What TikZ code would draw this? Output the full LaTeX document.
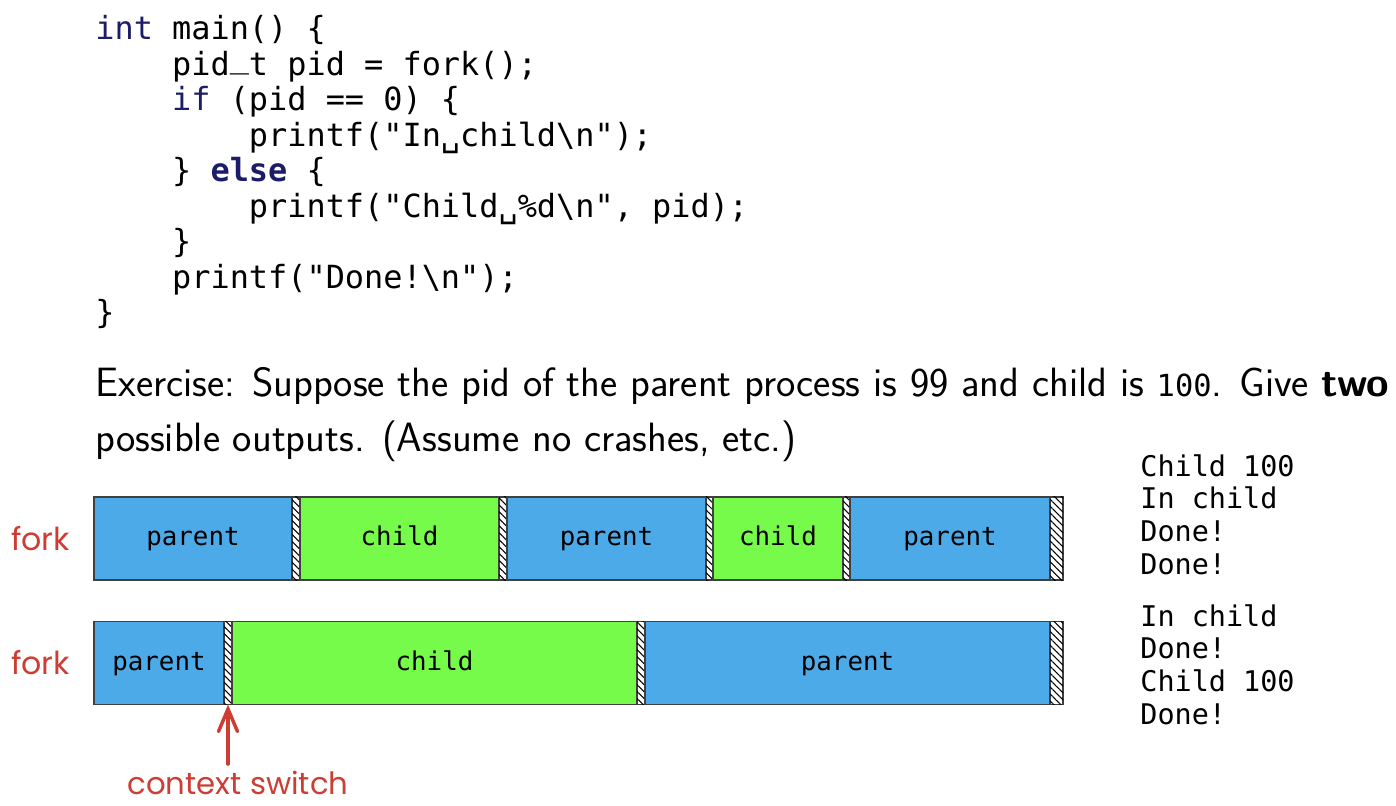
\documentclass[tikz,border=0pt]{standalone}
\usepackage{fontspec}
\setmonofont{DejaVu Sans Mono}
\newfontfamily\handfont{Poppins}
\usetikzlibrary{positioning,patterns.meta,arrows.meta}

\definecolor{procblue}{RGB}{77,170,232}
\definecolor{procgreen}{RGB}{118,251,75}
\definecolor{kwblue}{RGB}{28,28,105}
\definecolor{handred}{RGB}{204,62,52}

\tikzset{
  seg/.style={draw=black!75, line width=0.6pt, minimum height=1.66cm,
    inner sep=0pt, outer sep=0pt, text height=0.9em, text depth=0.1em,
    font=\fontsize{14.7}{16}\selectfont\ttfamily},
  parentseg/.style={seg, fill=procblue},
  childseg/.style={seg, fill=procgreen},
  switchseg/.style={seg, fill=white, postaction={pattern={Lines[angle=-45,distance=2.8pt,line width=0.6pt]}}},
  hand/.style={text=handred, font=\handfont\fontsize{18}{22}\selectfont},
  output/.style={anchor=north west, inner sep=0pt, align=left,
    font=\fontsize{16.2}{18.6}\selectfont\ttfamily},
}

\begin{document}
\begin{tikzpicture}
\useasboundingbox (0,0) rectangle (27.92,-16.12);

% the program
\node[anchor=north west, inner sep=0pt, align=left,
  font=\fontsize{18.15}{20.2}\selectfont\ttfamily] (code) at (1.9,-0.3) {%
\textcolor{kwblue}{int} main() \{\\
\phantom{0000}pid\raisebox{0.25em}{\char"5F}t pid = fork();\\
\phantom{0000}\textcolor{kwblue}{if} (pid == 0) \{\\
\phantom{00000000}printf("In\char"2423child\textbackslash n");\\
\phantom{0000}\} \textcolor{kwblue}{\bfseries else} \{\\
\phantom{00000000}printf("Child\char"2423\%d\textbackslash n", pid);\\
\phantom{0000}\}\\
\phantom{0000}printf("Done!\textbackslash n");\\
\}};

% the question
\node[anchor=north west, inner sep=0pt, align=left,
  font=\sffamily\fontsize{23.3}{31.3}\selectfont] (task) at (1.9,-7.35) {%
Exercise: Suppose the pid of the parent process is 99 and child is {\fontsize{17.3}{20}\selectfont\ttfamily 100}. Give \textbf{two}\\
possible outputs. (Assume no crashes, etc.)};

% first schedule
\node[parentseg, minimum width=3.96cm, anchor=west] (p1) at (1.88,-10.77) {parent};
\node[switchseg, minimum width=0.16cm, right=0pt of p1] (s1) {};
\node[childseg, minimum width=3.98cm, right=0pt of s1] (c1) {child};
\node[switchseg, minimum width=0.16cm, right=0pt of c1] (s2) {};
\node[parentseg, minimum width=3.98cm, right=0pt of s2] (p2) {parent};
\node[switchseg, minimum width=0.14cm, right=0pt of p2] (s3) {};
\node[childseg, minimum width=2.6cm, right=0pt of s3] (c2) {child};
\node[switchseg, minimum width=0.14cm, right=0pt of c2] (s4) {};
\node[parentseg, minimum width=4.0cm, right=0pt of s4] (p3) {parent};
\node[switchseg, minimum width=0.26cm, right=0pt of p3] (s5) {};
\node[hand, left=0.36cm of p1] (fork1) {fork};

% second schedule
\node[parentseg, minimum width=2.6cm, anchor=west] (q1) at (1.88,-13.26) {parent};
\node[switchseg, minimum width=0.16cm, right=0pt of q1] (t1) {};
\node[childseg, minimum width=8.1cm, right=0pt of t1] (d1) {child};
\node[switchseg, minimum width=0.16cm, right=0pt of d1] (t2) {};
\node[parentseg, minimum width=8.1cm, right=0pt of t2] (q2) {parent};
\node[switchseg, minimum width=0.26cm, right=0pt of q2] (t3) {};
\node[hand, left=0.36cm of q1] (fork2) {fork};

\node[hand, font=\handfont\fontsize{17.5}{20}\selectfont, inner sep=1pt] (cs) at (4.76,-15.66) {context switch};
\draw[handred, line width=2pt, line cap=round,
  -{Straight Barb[length=0.45cm,width=0.38cm,line cap=round]}]
  (cs.north -| t1.south) ++(0,0.1) -- (t1.south);

% outputs
\node[output] (out1) at (22.8,-9.08) {Child 100\\In child\\Done!\\Done!};
\node[output] (out2) at (22.8,-12.08) {In child\\Done!\\Child 100\\Done!};
\end{tikzpicture}
\end{document}
